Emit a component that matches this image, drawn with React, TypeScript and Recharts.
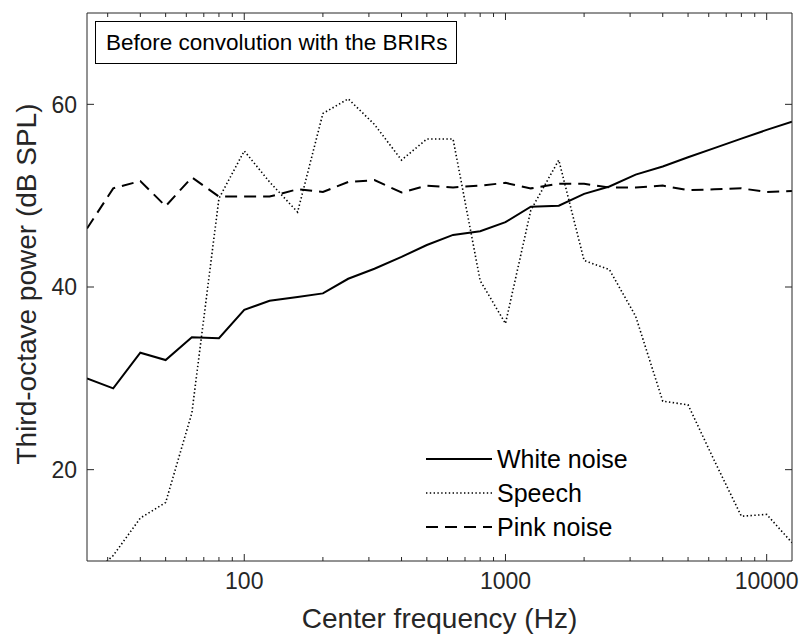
import React from 'react';
import { LineChart, Line, XAxis, YAxis, Legend } from 'recharts';

const FREQS = [25, 31.5, 40, 50, 63, 80, 100, 125, 160, 200, 250, 315, 400, 500, 630, 800, 1000, 1250, 1600, 2000, 2500, 3150, 4000, 5000, 6300, 8000, 10000, 12500];
const WHITE = [30.0, 28.9, 32.8, 32.0, 34.5, 34.4, 37.5, 38.5, 38.9, 39.3, 40.9, 42.0, 43.3, 44.6, 45.7, 46.1, 47.1, 48.8, 48.9, 50.2, 51.0, 52.3, 53.2, 54.2, 55.2, 56.25, 57.2, 58.1];
const SPEECH = [8.0, 10.6, 14.7, 16.4, 26.2, 49.7, 54.9, 51.5, 48.2, 59.0, 60.6, 57.8, 53.9, 56.2, 56.2, 40.7, 36.0, 48.4, 53.9, 42.9, 41.9, 36.8, 27.5, 27.1, 21.0, 14.9, 15.1, 12.0];
const PINK = [46.4, 50.8, 51.6, 48.85, 52.0, 49.9, 49.9, 49.9, 50.7, 50.4, 51.5, 51.7, 50.35, 51.1, 50.9, 51.1, 51.4, 50.8, 51.3, 51.3, 50.9, 50.9, 51.1, 50.6, 50.7, 50.8, 50.4, 50.5];

const SERIES_NAMES = ['White noise', 'Speech', 'Pink noise'];
const X_MAJOR = [100, 1000, 10000];
const X_MINOR = [30, 40, 50, 60, 70, 80, 90, 200, 300, 400, 500, 600, 700, 800, 900, 2000, 3000, 4000, 5000, 6000, 7000, 8000, 9000];
const X_TICKS = [...X_MINOR.slice(0, 7), 100, ...X_MINOR.slice(7, 15), 1000, ...X_MINOR.slice(15), 10000];
const Y_TICKS = [20, 40, 60];
const X_DOMAIN = [25, 12500];
const Y_DOMAIN = [10, 70];

const TITLE = 'Before convolution with the BRIRs';
const X_LABEL = 'Center frequency (Hz)';
const Y_LABEL = 'Third-octave power (dB SPL)';

const rows = FREQS.map((f, i) => ({ f, white: WHITE[i], speech: SPEECH[i], pink: PINK[i] }));

const FONT = '"Liberation Sans", Arial, Helvetica, sans-serif';
const AX = '#262626';

const BottomTick = (props: any) => {
  const { x, y, payload } = props;
  const major = X_MAJOR.includes(payload.value);
  return (
    <g>
      <line x1={x} x2={x} y1={y} y2={y - (major ? 7 : 4)} stroke={AX} strokeWidth={1} />
      {major && (
        <text x={x} y={y + 28} textAnchor="middle" fontSize={23} fill={AX} fontFamily={FONT}>
          {payload.value}
        </text>
      )}
    </g>
  );
};

const TopTick = (props: any) => {
  const { x, y, payload } = props;
  const major = X_MAJOR.includes(payload.value);
  return <line x1={x} x2={x} y1={y} y2={y + (major ? 7 : 4)} stroke={AX} strokeWidth={1} />;
};

const LeftTick = (props: any) => {
  const { x, y, payload } = props;
  return (
    <g>
      <line x1={x} x2={x + 7} y1={y} y2={y} stroke={AX} strokeWidth={1} />
      <text x={x - 10} y={y + 8.3} textAnchor="end" fontSize={23} fill={AX} fontFamily={FONT}>
        {payload.value}
      </text>
    </g>
  );
};

const RightTick = (props: any) => {
  const { x, y } = props;
  return <line x1={x} x2={x - 7} y1={y} y2={y} stroke={AX} strokeWidth={1} />;
};

const STYLES = [
  { key: 'white', dash: undefined as string | undefined, width: 2 },
  { key: 'speech', dash: '1.4 2.4', width: 1.6 },
  { key: 'pink', dash: '12 7', width: 2 },
];

const LegendBox = () => (
  <svg width={260} height={104} style={{ display: 'block', background: '#fff' }}>
    {SERIES_NAMES.map((name, i) => {
      const cy = 19 + i * 34;
      return (
        <g key={name}>
          <line x1={6} x2={72} y1={cy} y2={cy} stroke="#000" strokeWidth={STYLES[i].width} strokeDasharray={STYLES[i].dash} />
          <text x={77} y={cy + 9} fontSize={25} fill="#000" fontFamily={FONT}>{name}</text>
        </g>
      );
    })}
  </svg>
);

export default function App() {
  return (
    <div style={{ position: 'absolute', left: 0, top: 0, width: 805, height: 644, background: '#fff', fontFamily: FONT }}>
      <LineChart width={805} height={644} data={rows} margin={{ top: 12, right: 12, bottom: 43, left: 27 }}>
        <XAxis
          dataKey="f"
          type="number"
          scale="log"
          domain={X_DOMAIN}
          allowDataOverflow
          ticks={X_TICKS}
          interval={0}
          height={40}
          tickSize={0}
          tickMargin={0}
          tickLine={false}
          tick={<BottomTick />}
          axisLine={{ stroke: AX, strokeWidth: 1 }}
        />
        <XAxis
          xAxisId="top"
          orientation="top"
          dataKey="f"
          type="number"
          scale="log"
          domain={X_DOMAIN}
          allowDataOverflow
          ticks={X_TICKS}
          interval={0}
          height={1}
          tickSize={0}
          tickMargin={0}
          tickLine={false}
          tick={<TopTick />}
          axisLine={{ stroke: AX, strokeWidth: 1 }}
        />
        <YAxis
          type="number"
          domain={Y_DOMAIN}
          allowDataOverflow
          ticks={Y_TICKS}
          interval={0}
          width={60}
          tickSize={0}
          tickMargin={0}
          tickLine={false}
          tick={<LeftTick />}
          axisLine={{ stroke: AX, strokeWidth: 1 }}
        />
        <YAxis
          yAxisId="right"
          orientation="right"
          type="number"
          domain={Y_DOMAIN}
          allowDataOverflow
          ticks={Y_TICKS}
          interval={0}
          width={1}
          tickSize={0}
          tickMargin={0}
          tickLine={false}
          tick={<RightTick />}
          axisLine={{ stroke: AX, strokeWidth: 1 }}
        />
        {STYLES.map((s, i) => (
          <Line
            key={s.key}
            dataKey={s.key}
            name={SERIES_NAMES[i]}
            type="linear"
            stroke="#000"
            strokeWidth={s.width}
            strokeDasharray={s.dash}
            dot={false}
            activeDot={false}
            isAnimationActive={false}
          />
        ))}
        <Legend
          layout="vertical"
          align="center"
          verticalAlign="middle"
          wrapperStyle={{ left: 420, top: 440, width: 260, height: 104 }}
          content={() => <LegendBox />}
        />
      </LineChart>
      <div
        style={{
          position: 'absolute', left: 95, top: 21, width: 362, height: 43, boxSizing: 'border-box',
          border: '1px solid #000', background: '#fff', fontSize: 22.5, lineHeight: '41px', paddingLeft: 10,
          color: '#000', whiteSpace: 'nowrap',
        }}
      >
        {TITLE}
      </div>
      <div
        style={{
          position: 'absolute', left: 0, top: 602, width: 879, textAlign: 'center', fontSize: 28,
          lineHeight: '34px', color: AX, whiteSpace: 'nowrap',
        }}
      >
        {X_LABEL}
      </div>
      <div
        style={{
          position: 'absolute', left: 27 - 300, top: 284 - 17, width: 600, height: 34, textAlign: 'center',
          fontSize: 28, lineHeight: '34px', color: AX, whiteSpace: 'nowrap', transform: 'rotate(-90deg)',
        }}
      >
        {Y_LABEL}
      </div>
    </div>
  );
}
